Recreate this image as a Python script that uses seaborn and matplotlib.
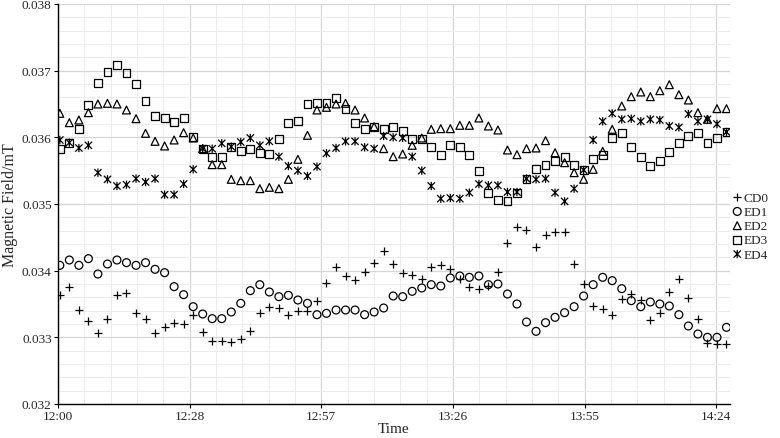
import matplotlib
matplotlib.use("Agg")
import matplotlib.pyplot as plt
import seaborn as sns
from matplotlib.path import Path
from matplotlib.ticker import MultipleLocator, FixedLocator, FixedFormatter, FormatStrFormatter

# sample times in minutes after 12:00
minutes = [0.40, 2.48, 4.57, 6.65, 8.73, 10.82, 12.90, 14.98, 17.07, 19.15,
           21.23, 23.32, 25.40, 27.48, 29.57, 31.65, 33.73, 35.82, 37.90, 39.98,
           42.07, 44.15, 46.23, 48.32, 50.40, 52.48, 54.57, 56.65, 58.73, 60.82,
           62.90, 64.98, 67.07, 69.15, 71.23, 73.32, 75.40, 77.48, 79.57, 81.65,
           83.73, 85.82, 87.90, 89.98, 92.07, 94.15, 96.23, 98.32, 100.40, 102.48,
           104.57, 106.65, 108.73, 110.82, 112.90, 114.98, 117.07, 119.15, 121.23, 123.32,
           125.40, 127.48, 129.57, 131.65, 133.73, 135.82, 137.90, 139.98, 142.07, 144.15,
           146.23]

cd0 = [0.03364, 0.03376, 0.03341, 0.03324, 0.03306, 0.03327, 0.03364, 0.03367, 0.03337, 0.03327,
       0.03306, 0.03316, 0.03322, 0.03320, 0.03333, 0.03308, 0.03294, 0.03294, 0.03293, 0.03298,
       0.03310, 0.03336, 0.03345, 0.03344, 0.03334, 0.03340, 0.03340, 0.03354, 0.03382, 0.03406,
       0.03392, 0.03386, 0.03398, 0.03412, 0.03429, 0.03410, 0.03396, 0.03393, 0.03387, 0.03406,
       0.03408, 0.03402, 0.03388, 0.03376, 0.03373, 0.03377, 0.03398, 0.03442, 0.03466, 0.03461,
       0.03436, 0.03453, 0.03458, 0.03458, 0.03410, 0.03380, 0.03347, 0.03342, 0.03334, 0.03358,
       0.03365, 0.03356, 0.03326, 0.03336, 0.03368, 0.03387, 0.03359, 0.03327, 0.03292, 0.03290,
       0.03290]

ed1 = [0.03408, 0.03416, 0.03408, 0.03418, 0.03395, 0.03410, 0.03416, 0.03412, 0.03408, 0.03412,
       0.03402, 0.03397, 0.03376, 0.03364, 0.03346, 0.03335, 0.03328, 0.03328, 0.03338, 0.03351,
       0.03370, 0.03379, 0.03368, 0.03361, 0.03363, 0.03356, 0.03351, 0.03334, 0.03336, 0.03341,
       0.03341, 0.03341, 0.03334, 0.03338, 0.03344, 0.03362, 0.03361, 0.03369, 0.03374, 0.03379,
       0.03377, 0.03389, 0.03392, 0.03390, 0.03392, 0.03379, 0.03380, 0.03365, 0.03350, 0.03323,
       0.03309, 0.03322, 0.03330, 0.03337, 0.03346, 0.03362, 0.03379, 0.03390, 0.03385, 0.03373,
       0.03355, 0.03346, 0.03353, 0.03350, 0.03347, 0.03334, 0.03317, 0.03305, 0.03300, 0.03300,
       0.03315]

ed2 = [0.03636, 0.03622, 0.03626, 0.03637, 0.03650, 0.03651, 0.03650, 0.03641, 0.03628, 0.03606,
       0.03594, 0.03587, 0.03596, 0.03607, 0.03599, 0.03583, 0.03559, 0.03559, 0.03537, 0.03535,
       0.03535, 0.03523, 0.03525, 0.03523, 0.03537, 0.03567, 0.03603, 0.03641, 0.03645, 0.03650,
       0.03651, 0.03641, 0.03629, 0.03616, 0.03583, 0.03571, 0.03575, 0.03588, 0.03599, 0.03612,
       0.03613, 0.03613, 0.03618, 0.03618, 0.03629, 0.03617, 0.03611, 0.03581, 0.03574, 0.03583,
       0.03584, 0.03595, 0.03577, 0.03562, 0.03547, 0.03537, 0.03552, 0.03579, 0.03612, 0.03647,
       0.03661, 0.03668, 0.03661, 0.03670, 0.03679, 0.03664, 0.03656, 0.03637, 0.03627, 0.03643,
       0.03643]

ed3 = [0.03583, 0.03592, 0.03612, 0.03648, 0.03682, 0.03698, 0.03708, 0.03696, 0.03680, 0.03655,
       0.03632, 0.03629, 0.03623, 0.03629, 0.03601, 0.03583, 0.03571, 0.03571, 0.03586, 0.03579,
       0.03583, 0.03576, 0.03575, 0.03598, 0.03622, 0.03625, 0.03650, 0.03652, 0.03652, 0.03659,
       0.03643, 0.03622, 0.03613, 0.03616, 0.03613, 0.03616, 0.03610, 0.03598, 0.03598, 0.03586,
       0.03574, 0.03589, 0.03585, 0.03574, 0.03550, 0.03517, 0.03506, 0.03504, 0.03517, 0.03537,
       0.03552, 0.03558, 0.03565, 0.03570, 0.03559, 0.03551, 0.03568, 0.03573, 0.03599, 0.03606,
       0.03585, 0.03571, 0.03557, 0.03565, 0.03578, 0.03591, 0.03602, 0.03607, 0.03592, 0.03599,
       0.03608]

ed4 = [0.03596, 0.03592, 0.03584, 0.03588, 0.03547, 0.03537, 0.03527, 0.03529, 0.03538, 0.03533,
       0.03538, 0.03514, 0.03514, 0.03530, 0.03552, 0.03583, 0.03583, 0.03591, 0.03586, 0.03593,
       0.03599, 0.03588, 0.03594, 0.03571, 0.03557, 0.03550, 0.03542, 0.03556, 0.03576, 0.03584,
       0.03594, 0.03594, 0.03585, 0.03583, 0.03602, 0.03600, 0.03599, 0.03571, 0.03550, 0.03527,
       0.03508, 0.03509, 0.03508, 0.03517, 0.03530, 0.03528, 0.03528, 0.03518, 0.03518, 0.03538,
       0.03537, 0.03538, 0.03517, 0.03504, 0.03523, 0.03551, 0.03596, 0.03624, 0.03636, 0.03627,
       0.03628, 0.03624, 0.03627, 0.03626, 0.03617, 0.03615, 0.03635, 0.03624, 0.03627, 0.03620,
       0.03608]

series_names = ["CD0", "ED1", "ED2", "ED3", "ED4"]
tick_minutes = [0, 28.8, 57.6, 86.4, 115.2, 144.0]
tick_labels = ["12:00", "12:28", "12:57", "13:26", "13:55", "14:24"]
y_ticks = [0.032, 0.033, 0.034, 0.035, 0.036, 0.037, 0.038]

sns.set_style("white")
plt.rcParams["font.family"] = "serif"
plt.rcParams["font.serif"] = ["Liberation Serif", "DejaVu Serif"]
plt.rcParams["font.size"] = 9.5

star = Path([(-1, -1), (1, 1), (-1, 1), (1, -1), (0, -1.15), (0, 1.15)],
            [Path.MOVETO, Path.LINETO, Path.MOVETO, Path.LINETO, Path.MOVETO, Path.LINETO])

fig = plt.figure(figsize=(7.8, 4.39), dpi=100)
ax = fig.add_axes([58 / 780, 34 / 439, (730 - 58) / 780, 400 / 439])

all_series = [cd0, ed1, ed2, ed3, ed4]
markers = ["+", "o", "^", "s", star]
sizes = [36, 32, 32, 32, 36]
for name, vals, m, s in zip(series_names, all_series, markers, sizes):
    if m == "+":
        sns.scatterplot(x=minutes, y=vals, marker=m, s=s, color="black",
                        linewidth=0.9, ax=ax, label=name, zorder=3)
    else:
        sns.scatterplot(x=minutes, y=vals, marker=m, s=s, facecolor="none",
                        edgecolor="black", linewidth=0.9, ax=ax, label=name, zorder=3)

ax.set_xlim(0, 147)
ax.set_ylim(0.032, 0.038)
ax.xaxis.set_major_locator(FixedLocator(tick_minutes))
ax.xaxis.set_major_formatter(FixedFormatter(tick_labels))
ax.xaxis.set_minor_locator(MultipleLocator(5.76))
ax.yaxis.set_major_locator(FixedLocator(y_ticks))
ax.yaxis.set_major_formatter(FormatStrFormatter("%.3f"))
ax.yaxis.set_minor_locator(MultipleLocator(0.0002))

ax.grid(which="major", color="#d6d6d6", linewidth=0.9, zorder=0)
ax.grid(which="minor", color="#ececec", linewidth=0.7, zorder=0)
ax.set_axisbelow(True)

for side in ["top", "right"]:
    ax.spines[side].set_visible(False)
for side in ["left", "bottom"]:
    ax.spines[side].set_color("black")
    ax.spines[side].set_linewidth(1.0)

ax.tick_params(which="major", direction="out", length=3, width=0.8, color="black",
               labelsize=9.5, pad=1.5, bottom=True, left=True)
ax.tick_params(which="minor", length=0)

ax.set_xlabel("Time", fontsize=11, labelpad=0)
ax.set_ylabel("Magnetic Field/mT", fontsize=11.5, labelpad=3)

handles, labels = ax.get_legend_handles_labels()
ax.legend(handles, labels, loc="center left", bbox_to_anchor=(0.997, 0.445),
          frameon=False, fontsize=9.5, handlelength=0.6, handletextpad=0.15,
          labelspacing=0.15, borderaxespad=0.0, scatterpoints=1)

fig.savefig("out.png", dpi=100)
